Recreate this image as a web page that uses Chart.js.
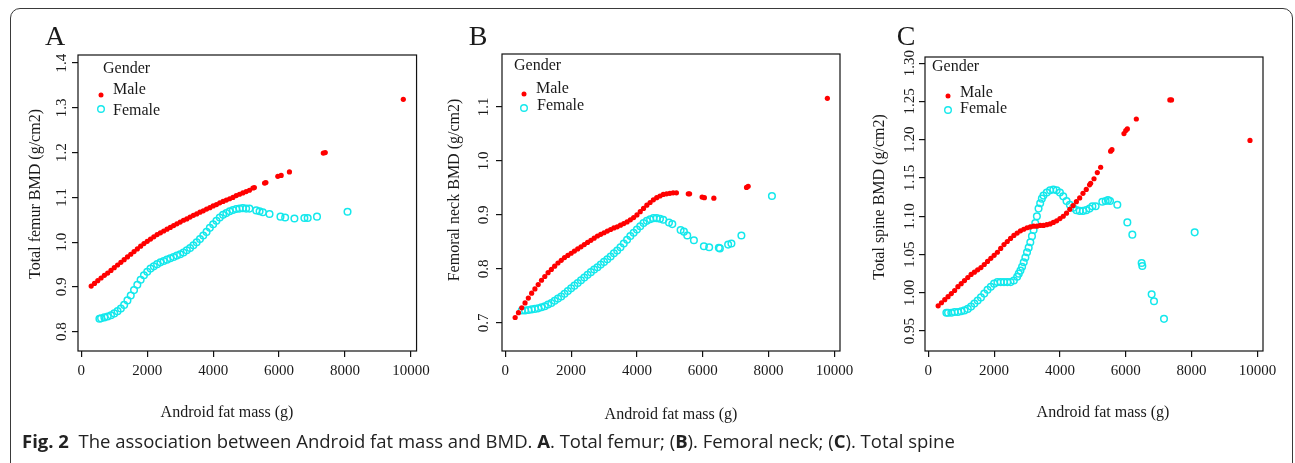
<!DOCTYPE html>
<html><head><meta charset="utf-8">
<script src="https://cdn.jsdelivr.net/npm/chart.js"></script>
<style>
  body {
    margin: 0;
    width: 1295px;
    height: 463px;
    overflow: hidden;
    position: relative;
    background: #fff;
  }
  .frame {
    position: absolute;
    left: 10px;
    top: 8px;
    width: 1283px;
    height: 470px;
    border: 1px solid #3a3a3a;
    border-radius: 10px;
    box-sizing: border-box;
  }
  .panel {
    position: absolute;
    top: 0;
  }
  .caption {
    position: absolute;
    left: 22px;
    top: 428px;
    font-family: "Open Sans", sans-serif;
    font-size: 18.5px;
    color: #222;
    white-space: nowrap;
  }
</style>
</head>
<body>
<div class="frame"></div>
<canvas id="cA" class="panel" style="left:10px" width="425" height="430"></canvas>
<canvas id="cB" class="panel" style="left:435px" width="425" height="430"></canvas>
<canvas id="cC" class="panel" style="left:860px" width="430" height="430"></canvas>
<div class="caption"><b>Fig. 2</b>&nbsp; The association between Android fat mass and BMD. <b>A</b>. Total femur; (<b>B</b>). Femoral neck; (<b>C</b>). Total spine</div>

<script>
// shared x axis
const xTicks = [0, 2000, 4000, 6000, 8000, 10000];
const xTickLabels = ['0', '2000', '4000', '6000', '8000', '10000'];
const xTitle = 'Android fat mass (g)';
const legendTitle = 'Gender';
const groups = ['Male', 'Female'];

// A. Total femur
const aYTicks = [0.8, 0.9, 1.0, 1.1, 1.2, 1.3, 1.4];
const aYTickLabels = ['0.8', '0.9', '1.0', '1.1', '1.2', '1.3', '1.4'];
const aMaleX = [300,400,500,600,700,800,900,1000,1100,1200,1300,1400,1500,1600,1700,1800,1900,2000,
  2100,2200,2300,2400,2500,2600,2700,2800,2900,3000,3100,3200,3300,3400,3500,3600,3700,3800,3900,4000,
  4100,4200,4300,4400,4500,4600,4700,4800,4900,5000,5100,
  5206,5250,5559,5600,5961,6063,6314,7341,7400,9768];
const aMaleY = [0.902,0.908,0.914,0.920,0.926,0.931,0.937,0.943,0.949,0.955,0.961,0.967,0.973,0.979,0.985,0.991,0.997,1.002,
  1.007,1.012,1.017,1.021,1.025,1.029,1.033,1.037,1.041,1.045,1.049,1.052,1.056,1.060,1.063,1.067,1.070,1.074,1.077,1.081,
  1.084,1.088,1.091,1.094,1.097,1.100,1.104,1.107,1.110,1.113,1.116,
  1.121,1.122,1.132,1.133,1.147,1.149,1.157,1.199,1.200,1.319];
const aFemaleX = [550,600,700,800,900,1000,1100,1200,1300,1400,1500,1600,1700,1800,1900,2000,
  2100,2200,2300,2400,2500,2600,2700,2800,2900,3000,3100,3200,3300,3400,3500,3600,3700,3800,3900,4000,
  4100,4200,4300,4400,4500,4600,4700,4800,4900,5000,5100,
  5307,5408,5508,5710,6042,6184,6465,6767,6868,7150,8076];
const aFemaleY = [0.829,0.830,0.832,0.834,0.837,0.841,0.846,0.852,0.860,0.870,0.881,0.893,0.905,0.916,0.926,0.934,
  0.941,0.946,0.951,0.955,0.958,0.961,0.964,0.967,0.970,0.973,0.977,0.982,0.987,0.993,1.000,1.007,1.015,1.023,1.032,1.040,
  1.048,1.055,1.061,1.065,1.069,1.072,1.074,1.075,1.076,1.075,1.075,
  1.071,1.069,1.067,1.063,1.057,1.055,1.053,1.054,1.054,1.057,1.068];

// B. Femoral neck
const bYTicks = [0.7, 0.8, 0.9, 1.0, 1.1];
const bYTickLabels = ['0.7', '0.8', '0.9', '1.0', '1.1'];
const bMaleX = [300,400,500,600,700,800,900,1000,1100,1200,1300,1400,1500,1600,1700,1800,1900,2000,
  2100,2200,2300,2400,2500,2600,2700,2800,2900,3000,3100,3200,3300,3400,3500,3600,3700,3800,3900,4000,
  4100,4200,4300,4400,4500,4600,4700,4800,4900,5000,5100,5200,
  5560,5600,5980,6050,6337,7330,7380,9787];
const bMaleY = [0.710,0.719,0.728,0.737,0.746,0.755,0.763,0.771,0.779,0.786,0.793,0.799,0.805,0.811,0.816,0.821,0.825,0.829,
  0.833,0.837,0.841,0.845,0.849,0.853,0.857,0.861,0.864,0.867,0.870,0.873,0.876,0.878,0.881,0.884,0.887,0.891,0.895,0.900,
  0.906,0.912,0.918,0.923,0.928,0.932,0.935,0.938,0.939,0.940,0.941,0.941,
  0.939,0.939,0.933,0.932,0.931,0.951,0.953,1.116];
const bFemaleX = [500,600,700,800,900,1000,1100,1200,1300,1400,1500,1600,1700,1800,1900,2000,
  2100,2200,2300,2400,2500,2600,2700,2800,2900,3000,3100,3200,3300,3400,3500,3600,3700,3800,3900,4000,
  4100,4200,4300,4400,4500,4600,4700,4800,
  4974,5075,5327,5428,5529,5731,6034,6195,6488,6520,6771,6871,7174,8102];
const bFemaleY = [0.723,0.723,0.724,0.725,0.726,0.727,0.729,0.731,0.734,0.737,0.741,0.745,0.749,0.754,0.759,0.764,
  0.769,0.774,0.779,0.784,0.789,0.794,0.799,0.803,0.808,0.813,0.818,0.823,0.829,0.834,0.840,0.847,0.854,0.861,0.867,0.873,
  0.879,0.885,0.889,0.892,0.894,0.894,0.893,0.891,
  0.886,0.883,0.872,0.869,0.862,0.853,0.842,0.840,0.839,0.838,0.845,0.847,0.862,0.935];

// C. Total spine
const cYTicks = [0.95, 1.00, 1.05, 1.10, 1.15, 1.20, 1.25, 1.30];
const cYTickLabels = ['0.95', '1.00', '1.05', '1.10', '1.15', '1.20', '1.25', '1.30'];
const cMaleX = [300,400,500,600,700,800,900,1000,1100,1200,1300,1400,1500,1600,1700,1800,1900,2000,
  2100,2200,2300,2400,2500,2600,2700,2800,2900,3000,3100,3200,3300,3400,3500,3600,3700,3800,3900,4000,
  4100,4200,4300,4400,4500,4600,4700,4800,
  4900,4933,5035,5136,5237,5540,5580,5946,6000,6048,6321,7340,7390,9775];
const cMaleY = [0.983,0.987,0.991,0.995,0.999,1.003,1.008,1.012,1.016,1.020,1.024,1.027,1.030,1.033,1.037,1.041,1.045,1.049,
  1.053,1.058,1.063,1.067,1.071,1.075,1.078,1.081,1.083,1.085,1.086,1.087,1.087,1.088,1.088,1.089,1.090,1.092,1.094,1.097,
  1.100,1.104,1.109,1.114,1.119,1.124,1.130,1.135,
  1.141,1.143,1.149,1.157,1.164,1.185,1.187,1.208,1.212,1.214,1.227,1.252,1.252,1.199];
const cFemaleX = [550,600,700,800,900,1000,1100,1200,1300,1400,1500,1600,1700,1800,1900,2000,
  2100,2200,2300,2400,2500,2600,2700,2750,2800,2850,2900,2950,3000,3050,3100,3150,3200,3250,3300,3350,3400,3450,3500,
  3600,3700,3800,3900,4000,4100,4200,4300,4400,4500,4600,4700,4800,
  4900,4986,5085,5288,5389,5460,5521,5744,6048,6200,6483,6503,6787,6858,7162,8094];
const cFemaleY = [0.974,0.974,0.974,0.975,0.975,0.976,0.977,0.979,0.982,0.986,0.990,0.994,0.999,1.004,1.008,1.012,
  1.014,1.014,1.014,1.014,1.014,1.016,1.021,1.025,1.029,1.034,1.040,1.046,1.053,1.059,1.066,1.074,1.082,1.091,1.100,1.110,1.117,1.123,1.127,
  1.131,1.134,1.135,1.134,1.131,1.126,1.120,1.115,1.111,1.108,1.107,1.107,1.108,
  1.110,1.113,1.113,1.119,1.120,1.121,1.120,1.115,1.092,1.076,1.039,1.035,0.998,0.989,0.966,1.079];

const RED = '#ff0000';
const CYAN = '#14e8ec';
const INK = '#1a1a1a';
const SERIF = '"Liberation Serif", "Times New Roman", serif';

function pts(xs, ys) {
  return xs.map((x, i) => ({ x: x, y: ys[i] }));
}

// box, rotated y labels, axis titles, panel letter and legend
const decor = {
  id: 'decor',
  afterDraw(chart, args, o) {
    const ctx = chart.ctx;
    const a = chart.chartArea;
    const ys = chart.scales.y;
    ctx.save();
    ctx.strokeStyle = '#111';
    ctx.lineWidth = 1.2;
    ctx.strokeRect(a.left, a.top, a.right - a.left, a.bottom - a.top);

    ctx.fillStyle = INK;
    ctx.textAlign = 'center';
    ctx.textBaseline = 'middle';
    ctx.font = '15px ' + SERIF;
    ys.ticks.forEach(t => {
      ctx.save();
      ctx.translate(a.left - o.yLabelGap, ys.getPixelForValue(t.value));
      ctx.rotate(-Math.PI / 2);
      ctx.fillText(t.label, 0, 0);
      ctx.restore();
    });

    ctx.font = '16px ' + SERIF;
    ctx.save();
    ctx.translate(o.yTitlePos[0], o.yTitlePos[1]);
    ctx.rotate(-Math.PI / 2);
    ctx.fillText(o.yTitle, 0, 0);
    ctx.restore();
    ctx.fillText(xTitle, o.xTitlePos[0], o.xTitlePos[1]);

    ctx.font = '28px ' + SERIF;
    ctx.fillText(o.letter, o.letterPos[0], o.letterPos[1]);

    // legend
    const L = o.legend;
    ctx.font = '16px ' + SERIF;
    ctx.textAlign = 'left';
    ctx.fillText(legendTitle, L.title[0], L.title[1]);
    ctx.fillText(groups[0], L.text1[0], L.text1[1]);
    ctx.fillText(groups[1], L.text2[0], L.text2[1]);
    ctx.fillStyle = RED;
    ctx.beginPath();
    ctx.arc(L.mark1[0], L.mark1[1], 2.5, 0, Math.PI * 2);
    ctx.fill();
    ctx.strokeStyle = CYAN;
    ctx.lineWidth = 1.4;
    ctx.beginPath();
    ctx.arc(L.mark2[0], L.mark2[1], 3.3, 0, Math.PI * 2);
    ctx.stroke();
    ctx.restore();
  }
};

function makeChart(id, p) {
  new Chart(document.getElementById(id), {
    type: 'scatter',
    data: {
      datasets: [
        {
          label: groups[0],
          data: pts(p.maleX, p.maleY),
          pointRadius: 2.6,
          pointHoverRadius: 2.6,
          pointBackgroundColor: RED,
          pointBorderWidth: 0
        },
        {
          label: groups[1],
          data: pts(p.femaleX, p.femaleY),
          pointRadius: 3.3,
          pointHoverRadius: 3.3,
          pointBackgroundColor: 'rgba(0,0,0,0)',
          pointBorderColor: CYAN,
          pointBorderWidth: 1.5
        }
      ]
    },
    options: {
      responsive: false,
      animation: false,
      events: [],
      layout: { padding: { left: 0, top: p.top, right: p.right, bottom: 0 } },
      scales: {
        x: {
          type: 'linear',
          bounds: 'data',
          min: -100,
          max: 10170,
          afterBuildTicks: s => { s.ticks = xTicks.map(v => ({ value: v })); },
          afterFit: s => { s.height = 79; },
          border: { display: false },
          grid: { drawOnChartArea: false, drawTicks: true, tickLength: 6, color: '#111', lineWidth: 1.2 },
          ticks: {
            color: INK,
            padding: 5,
            maxRotation: 0,
            font: { family: SERIF, size: 15 },
            callback: (v, i) => xTickLabels[i]
          }
        },
        y: {
          type: 'linear',
          bounds: 'data',
          min: p.yMin,
          max: p.yMax,
          afterBuildTicks: s => { s.ticks = p.yTicks.map(v => ({ value: v })); },
          afterFit: s => { s.width = p.yWidth; },
          border: { display: false },
          grid: { drawOnChartArea: false, drawTicks: true, tickLength: 6, color: '#111', lineWidth: 1.2 },
          ticks: {
            display: false,
            callback: (v, i) => p.yTickLabels[i]
          }
        }
      },
      plugins: {
        legend: { display: false },
        tooltip: { enabled: false },
        decor: p.decor
      }
    },
    plugins: [decor]
  });
}

makeChart('cA', {
  maleX: aMaleX, maleY: aMaleY, femaleX: aFemaleX, femaleY: aFemaleY,
  yTicks: aYTicks, yTickLabels: aYTickLabels, yMin: 0.757, yMax: 1.418,
  top: 55, right: 18, yWidth: 68,
  decor: {
    letter: 'A', letterPos: [45, 38],
    yTitle: 'Total femur BMD (g/cm2)', yTitlePos: [26, 194], xTitlePos: [217, 413],
    yLabelGap: 16,
    legend: { title: [93, 69], mark1: [91, 95], text1: [103, 90], mark2: [91, 109], text2: [103, 111] }
  }
});

makeChart('cB', {
  maleX: bMaleX, maleY: bMaleY, femaleX: bFemaleX, femaleY: bFemaleY,
  yTicks: bYTicks, yTickLabels: bYTickLabels, yMin: 0.648, yMax: 1.198,
  top: 54, right: 20, yWidth: 67,
  decor: {
    letter: 'B', letterPos: [43, 38],
    yTitle: 'Femoral neck BMD (g/cm2)', yTitlePos: [20, 190], xTitlePos: [236, 415],
    yLabelGap: 18,
    legend: { title: [79, 66], mark1: [89, 94], text1: [101, 89], mark2: [89, 108], text2: [102, 106] }
  }
});

makeChart('cC', {
  maleX: cMaleX, maleY: cMaleY, femaleX: cFemaleX, femaleY: cFemaleY,
  yTicks: cYTicks, yTickLabels: cYTickLabels, yMin: 0.924, yMax: 1.308,
  top: 57, right: 27, yWidth: 65,
  decor: {
    letter: 'C', letterPos: [46, 38],
    yTitle: 'Total spine BMD (g/cm2)', yTitlePos: [20, 197], xTitlePos: [243, 413],
    yLabelGap: 15,
    legend: { title: [72, 67], mark1: [88, 96], text1: [100, 93], mark2: [88, 110], text2: [100, 109] }
  }
});
</script>
</body></html>
